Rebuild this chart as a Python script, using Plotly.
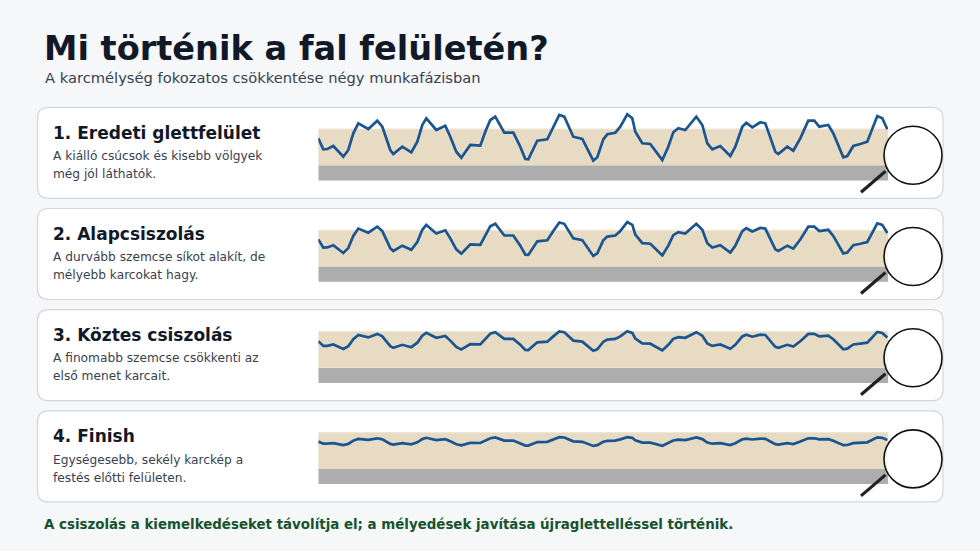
import plotly.graph_objects as go

W, H = 980, 551

# ---------------- data ----------------
TITLE = "Mi történik a fal felületén?"
SUBTITLE = "A karcmélység fokozatos csökkentése négy munkafázisban"
FOOTER = "A csiszolás a kiemelkedéseket távolítja el; a mélyedések javítása újraglettelléssel történik."

STAGE_TITLES = ["1. Eredeti glettfelület", "2. Alapcsiszolás", "3. Köztes csiszolás", "4. Finish"]
STAGE_DESC = [
    ["A kiálló csúcsok és kisebb völgyek", "még jól láthatók."],
    ["A durvább szemcse síkot alakít, de", "mélyebb karcokat hagy."],
    ["A finomabb szemcse csökkenti az", "első menet karcait."],
    ["Egységesebb, sekély karckép a", "festés előtti felületen."],
]

# position along the wall sample
pos = [0, 5, 9, 15, 25, 30, 35, 40, 50, 59, 64, 72, 75, 84, 93, 99, 104, 108, 118, 127,
       132, 138, 143, 152, 162, 167, 172, 177, 186, 195, 202, 207, 210, 219, 229, 235, 241, 246, 255, 264,
       275, 279, 285, 289, 297, 302, 309, 314, 317, 324, 332, 344, 350, 355, 360, 367, 378, 384, 389, 394,
       402, 412, 417, 424, 428, 434, 442, 447, 457, 460, 469, 475, 482, 490, 496, 501, 510, 515, 525, 529,
       535, 542, 549, 559, 564, 569]

# surface height above substrate (putty layer top = 36.5)
h_eredeti = [27.2, 16.2, 16.5, 19.5, 8.8, 15.5, 32.2, 42.2, 36.5, 44.8, 38.8, 15.5, 11.5, 18.8, 13.2, 23.8, 40.5, 47.2, 35.5, 39.8,
             28.8, 13.8, 7.8, 20.5, 19.8, 33.8, 45.5, 48.8, 32.8, 32.8, 18.8, 6.5, 6.2, 24.8, 26.2, 38.8, 50.5, 48.8, 28.8, 26.5,
             4.8, 8.2, 26.2, 31.2, 32.8, 38.8, 51.2, 47.2, 33.8, 22.2, 21.5, 5.5, 18.8, 33.2, 37.2, 35.5, 48.8, 40.5, 22.2, 16.2,
             19.5, 9.5, 18.8, 38.8, 42.8, 38.2, 43.2, 42.2, 13.8, 11.5, 18.8, 14.8, 27.2, 44.8, 44.8, 38.8, 40.5, 32.2, 8.2, 9.5,
             19.5, 21.5, 23.8, 49.5, 47.2, 36.2]
h_alap = [27.2, 19.1, 19.3, 21.5, 13.7, 18.6, 30.8, 38.1, 34.0, 40.0, 35.6, 18.6, 15.7, 21.0, 16.9, 24.7, 36.9, 41.8, 33.2, 36.4,
          28.3, 17.4, 13.0, 22.3, 21.8, 32.0, 40.5, 42.9, 31.2, 31.2, 21.0, 12.0, 11.8, 25.4, 26.4, 35.6, 44.2, 42.9, 28.3, 26.6,
          10.8, 13.3, 26.4, 30.1, 31.2, 35.6, 44.7, 41.8, 32.0, 23.5, 23.0, 11.3, 21.0, 31.5, 34.5, 33.2, 42.9, 36.9, 23.5, 19.1,
          21.5, 14.2, 21.0, 35.6, 38.5, 35.2, 38.8, 38.1, 17.4, 15.7, 21.0, 18.1, 27.2, 40.0, 40.0, 35.6, 36.9, 30.8, 13.3, 14.2,
          21.5, 23.0, 24.7, 43.4, 41.8, 33.7]
h_koztes = [26.6, 22.0, 22.1, 23.4, 18.9, 21.7, 28.7, 32.9, 30.5, 34.0, 31.5, 21.7, 20.0, 23.1, 20.7, 25.2, 32.2, 35.0, 30.1, 31.9,
            27.3, 21.0, 18.5, 23.8, 23.5, 29.4, 34.3, 35.7, 29.0, 29.0, 23.1, 17.9, 17.8, 25.6, 26.2, 31.5, 36.4, 35.7, 27.3, 26.3,
            17.2, 18.6, 26.2, 28.3, 29.0, 31.5, 36.7, 35.0, 29.4, 24.5, 24.2, 17.5, 23.1, 29.1, 30.8, 30.1, 35.7, 32.2, 24.5, 22.0,
            23.4, 19.2, 23.1, 31.5, 33.2, 31.2, 33.3, 32.9, 21.0, 20.0, 23.1, 21.4, 26.6, 34.0, 34.0, 31.5, 32.2, 28.7, 18.6, 19.2,
            23.4, 24.2, 25.2, 36.0, 35.0, 30.4]
h_finish = [27.5, 25.4, 25.4, 26.0, 24.0, 25.2, 28.4, 30.3, 29.2, 30.8, 29.7, 25.2, 24.5, 25.9, 24.8, 26.8, 30.0, 31.3, 29.0, 29.9,
            27.8, 24.9, 23.8, 26.2, 26.1, 28.7, 30.9, 31.6, 28.5, 28.5, 25.9, 23.5, 23.5, 27.0, 27.3, 29.7, 31.9, 31.6, 27.8, 27.3,
            23.2, 23.9, 27.3, 28.2, 28.5, 29.7, 32.0, 31.3, 28.7, 26.5, 26.4, 23.3, 25.9, 28.6, 29.4, 29.0, 31.6, 30.0, 26.5, 25.4,
            26.0, 24.1, 25.9, 29.7, 30.4, 29.6, 30.5, 30.3, 24.9, 24.5, 25.9, 25.1, 27.5, 30.8, 30.8, 29.7, 30.0, 28.4, 23.9, 24.1,
            26.0, 26.4, 26.8, 31.7, 31.3, 29.2]
PROFILES = [h_eredeti, h_alap, h_koztes, h_finish]

PUTTY_TOP = 36.5      # top of the putty (beige) layer
SUBSTRATE = -15.0     # bottom of the substrate (grey) layer
POS_MAX = 570

# ---------------- styling / layout ----------------
BG = "#f6f7f9"
CARD_BORDER = "#d3d7dd"
BEIGE = "#e7dbc4"
GREY = "#adadad"
LINE = "#1a5592"
DARK = "#111827"
TEXT = "#374151"
GREEN = "#14532d"
FONT = "DejaVu Sans"

CARD_X0, CARD_X1 = 37.5, 943
CARD_TOP0, CARD_STEP, CARD_H = 107.3, 101.2, 91
PLOT_X0, PLOT_X1 = 318.3, 888.3
BAND_BOTTOM_OFF = 58.2   # px from card top to the putty/substrate boundary


def px(x):
    return x / W


def py(y):
    return 1 - y / H


def rrect_path(x0, y0, x1, y1, r):
    return (f"M {px(x0 + r)},{py(y0)} L {px(x1 - r)},{py(y0)} "
            f"Q {px(x1)},{py(y0)} {px(x1)},{py(y0 + r)} L {px(x1)},{py(y1 - r)} "
            f"Q {px(x1)},{py(y1)} {px(x1 - r)},{py(y1)} L {px(x0 + r)},{py(y1)} "
            f"Q {px(x0)},{py(y1)} {px(x0)},{py(y1 - r)} L {px(x0)},{py(y0 + r)} "
            f"Q {px(x0)},{py(y0)} {px(x0 + r)},{py(y0)} Z")


fig = go.Figure()
shapes = []
annotations = []

for i, prof in enumerate(PROFILES):
    top = CARD_TOP0 + CARD_STEP * i
    bot = top + CARD_H
    n = "" if i == 0 else str(i + 1)
    xa, ya = "x" + n, "y" + n

    # card
    shapes.append(dict(type="path", path=rrect_path(CARD_X0, top, CARD_X1, bot, 11),
                       xref="paper", yref="paper", fillcolor="white",
                       line=dict(color=CARD_BORDER, width=1.2), layer="below"))

    # axes for this panel (1 unit = 1 px)
    fig.layout["xaxis" + n] = dict(domain=[px(PLOT_X0), px(PLOT_X1)], range=[0, POS_MAX],
                                   visible=False, fixedrange=True, anchor=ya)
    fig.layout["yaxis" + n] = dict(domain=[py(bot), py(top)],
                                   range=[-(CARD_H - BAND_BOTTOM_OFF), BAND_BOTTOM_OFF],
                                   visible=False, fixedrange=True, anchor=xa)

    # layers
    shapes.append(dict(type="rect", xref=xa, yref=ya, x0=0, x1=POS_MAX, y0=0, y1=PUTTY_TOP,
                       fillcolor=BEIGE, line=dict(color="#efe6d6", width=1), layer="below"))
    shapes.append(dict(type="rect", xref=xa, yref=ya, x0=0, x1=POS_MAX, y0=SUBSTRATE, y1=0,
                       fillcolor=GREY, line=dict(width=0), layer="below"))

    fig.add_trace(go.Scatter(x=pos, y=prof, mode="lines", xaxis=xa, yaxis=ya,
                             line=dict(color=LINE, width=2.7), hoverinfo="skip",
                             showlegend=False))

    # magnifier
    cx, cy, r = 913, top + 48, 29
    shapes.append(dict(type="line", xref="paper", yref="paper",
                       x0=px(cx - 27.5), y0=py(cy + 16), x1=px(cx - 52), y1=py(cy + 37),
                       line=dict(color="#222222", width=3.2), layer="above"))
    shapes.append(dict(type="circle", xref="paper", yref="paper",
                       x0=px(cx - r), x1=px(cx + r), y0=py(cy + r), y1=py(cy - r),
                       fillcolor="rgba(255,255,255,0.82)",
                       line=dict(color="#111111", width=1.6), layer="above"))

    # texts
    annotations.append(dict(text=f"<b>{STAGE_TITLES[i]}</b>", x=px(51), y=py(top + 25.5),
                            xref="paper", yref="paper", xanchor="left", yanchor="middle",
                            showarrow=False, font=dict(family=FONT, size=17, color=DARK)))
    for j, line in enumerate(STAGE_DESC[i]):
        annotations.append(dict(text=line, x=px(51), y=py(top + 48.7 + 18 * j),
                                xref="paper", yref="paper", xanchor="left", yanchor="middle",
                                showarrow=False, font=dict(family=FONT, size=12.2, color=TEXT)))

annotations.append(dict(text=f"<b>{TITLE}</b>", x=px(41.5), y=py(48), xref="paper", yref="paper",
                        xanchor="left", yanchor="middle", showarrow=False,
                        font=dict(family=FONT, size=33.6, color=DARK)))
annotations.append(dict(text=SUBTITLE, x=px(42.5), y=py(77.5), xref="paper", yref="paper",
                        xanchor="left", yanchor="middle", showarrow=False,
                        font=dict(family=FONT, size=14.7, color=TEXT)))
annotations.append(dict(text=f"<b>{FOOTER}</b>", x=px(41.5), y=py(524), xref="paper", yref="paper",
                        xanchor="left", yanchor="middle", showarrow=False,
                        font=dict(family=FONT, size=13.4, color=GREEN)))

fig.update_layout(width=W, height=H, margin=dict(l=0, r=0, t=0, b=0),
                  paper_bgcolor=BG, plot_bgcolor="rgba(0,0,0,0)",
                  shapes=shapes, annotations=annotations, showlegend=False,
                  font=dict(family=FONT))

fig.write_html("out.html", config={"displayModeBar": False},
               post_script="document.body.style.margin='0';document.body.style.background='%s';" % BG)
